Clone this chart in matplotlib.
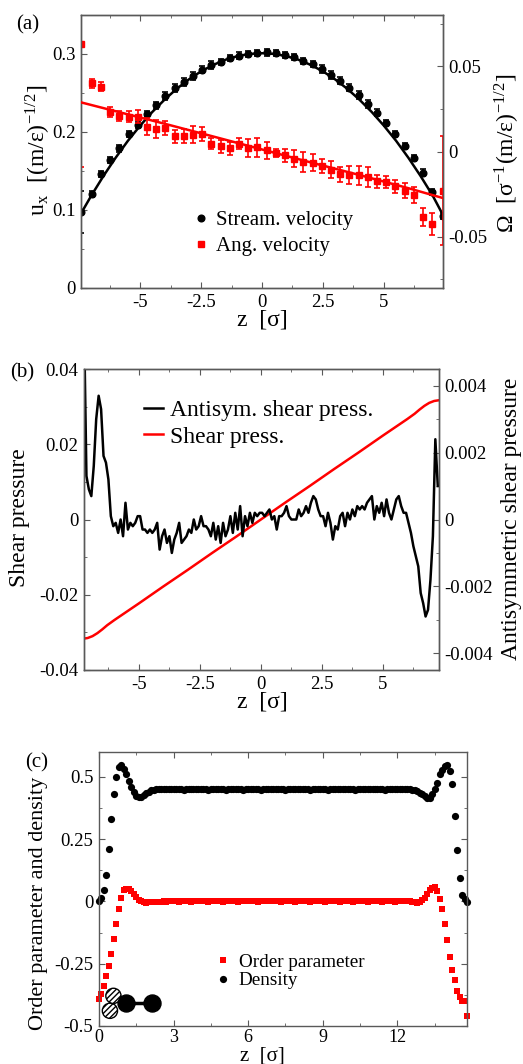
import numpy as np
import matplotlib.pyplot as plt
from matplotlib.ticker import MultipleLocator, FuncFormatter

plt.rcParams['font.family'] = ['Liberation Serif', 'DejaVu Serif']
plt.rcParams['mathtext.fontset'] = 'stix'
plt.rcParams['axes.unicode_minus'] = False

# ---------------- panel (a): velocity profiles ----------------
z_a = np.linspace(-6.98, 6.98, 38)
z_wall = [-7.42, 7.42]

stream_vel = [0.121, 0.146, 0.164, 0.179, 0.197, 0.209, 0.223, 0.234, 0.246, 0.256,
              0.264, 0.272, 0.280, 0.286, 0.290, 0.295, 0.298, 0.300, 0.301, 0.302,
              0.301, 0.299, 0.296, 0.291, 0.287, 0.281, 0.273, 0.266, 0.257, 0.247,
              0.236, 0.225, 0.212, 0.197, 0.182, 0.167, 0.148, 0.123]
stream_err = [0.004, 0.004, 0.004, 0.004, 0.004, 0.004, 0.004, 0.005, 0.005, 0.005,
              0.005, 0.005, 0.005, 0.005, 0.004, 0.004, 0.004, 0.004, 0.004, 0.004,
              0.004, 0.004, 0.004, 0.004, 0.004, 0.005, 0.005, 0.005, 0.005, 0.005,
              0.005, 0.005, 0.004, 0.004, 0.004, 0.004, 0.004, 0.004]
stream_wall = [0.097, 0.092]
stream_wall_err = [0.027, 0.004]

ang_vel = [0.040, 0.038, 0.023, 0.021, 0.0205, 0.0205, 0.0146, 0.0132, 0.0136, 0.0088,
           0.0091, 0.0097, 0.0101, 0.0046, 0.0030, 0.0019, 0.0046, 0.0022, 0.0024, 0.0006,
           -0.0007, -0.0022, -0.0043, -0.0063, -0.0066, -0.0085, -0.0107, -0.0133, -0.0138, -0.0140,
           -0.0149, -0.0175, -0.0180, -0.0205, -0.0230, -0.0254, -0.0384, -0.0425]
ang_err = [0.0025, 0.0025, 0.003, 0.003, 0.003, 0.004, 0.005, 0.005, 0.004, 0.004,
           0.004, 0.005, 0.004, 0.0034, 0.0039, 0.0039, 0.0034, 0.0054, 0.0058, 0.0049,
           0.0024, 0.0039, 0.0049, 0.0058, 0.0049, 0.0039, 0.0049, 0.0044, 0.0054, 0.0054,
           0.0058, 0.0039, 0.0034, 0.0040, 0.0045, 0.0046, 0.0054, 0.0065]
ang_wall = [0.063, -0.023]
ang_wall_err = [0.072, 0.032]

stream_fit_z = [-7.42, -7.0, -6.5, -6.0, -5.5, -5.0, -4.5, -4.0, -3.5, -3.0, -2.5, -2.0, -1.5, -1.0, -0.5, 0.0,
                0.5, 1.0, 1.5, 2.0, 2.5, 3.0, 3.5, 4.0, 4.5, 5.0, 5.5, 6.0, 6.5, 7.0, 7.42]
stream_fit = [0.0955, 0.1183, 0.1436, 0.1670, 0.1886, 0.2080, 0.2256, 0.2413, 0.2553, 0.2674, 0.2777,
              0.2860, 0.2926, 0.2973, 0.3001, 0.3010, 0.3001, 0.2973, 0.2926, 0.2860, 0.2777, 0.2674,
              0.2553, 0.2413, 0.2256, 0.2080, 0.1886, 0.1670, 0.1436, 0.1183, 0.0935]
ang_fit_z = [-7.42, -6.0, -4.0, -2.0, 0.0, 2.0, 4.0, 6.0, 7.42]
ang_fit = [0.0288, 0.0236, 0.0163, 0.0088, 0.0012, -0.0064, -0.0138, -0.0215, -0.0273]

# ---------------- panel (b): shear pressures ----------------
z_b = np.round(np.arange(-7.25, 7.26, 0.1), 2)
# antisymmetric shear pressure, in units of 1e-4
antisym = [60, 13, 9, 7, 16, 30, 37, 33, 19, 17, 12, 1, -2,
           -1, -4, 0, -5, 5, -3, -1, -2, -1, 1,
           1, -3, -3, -4, -3, -4, -3, -1, -9, -5,
           -3, -7, -5, -10, -6, -4, -1, -7, -6, -5,
           -3, -4, 0, -3, -2, 1, -2, -2, -3, -5,
           -1, -6, -2, -7, -1, -5, -3, 1, -4, 2,
           -3, 4, -5, 1, -2, 2, -1, 2, 1, 2,
           2, 1, 2, 3, 0, 1, -3, 1, 1, 2,
           4, 1, 0, 0, 0, 3, 1, 2, 4, 2,
           5, 7, 6, 3, 1, 1, -2, 2, -1, -6,
           -2, -3, 1, 2, -2, 2, 0, 3, 1, 4,
           3, 4, 3, 5, 6, 7, 0, 4, 2, 5,
           1, 6, 2, 0, 3, 6, 7, 4, 2, 2,
           -1, -4, -8, -11, -14, -22, -25, -29, -27, -18, -5, 24, 10]
shear_z = [-7.3, -7.1, -6.9, -6.7, -6.5, -6.3, -6.0, -5.0, -4.0, -3.0, -2.0, -1.0, 0.0,
           1.0, 2.0, 3.0, 4.0, 5.0, 6.0, 6.3, 6.5, 6.7, 6.9, 7.1, 7.3]
shear = [-0.0317, -0.0315, -0.0310, -0.0302, -0.0292, -0.0281, -0.0267, -0.0223, -0.0178,
         -0.0134, -0.0089, -0.0045, 0.0, 0.0045, 0.0089, 0.0134, 0.0178, 0.0223, 0.0267,
         0.0281, 0.0292, 0.0302, 0.0310, 0.0315, 0.0317]

# ---------------- panel (c): order parameter and density ----------------
z_c = np.round(np.arange(0, 14.81, 0.1), 2)
density = [0.002, 0.012, 0.045, 0.105, 0.21, 0.33, 0.43, 0.50, 0.54, 0.548,
           0.53, 0.51, 0.485, 0.458, 0.44, 0.425, 0.418, 0.42, 0.428, 0.435,
           0.441, 0.446, 0.449, 0.450, 0.451, 0.451, 0.450, 0.450, 0.451, 0.450,
           0.450, 0.451, 0.450, 0.450, 0.449, 0.450, 0.450, 0.451, 0.450, 0.450,
           0.450, 0.450, 0.451, 0.450, 0.449, 0.450, 0.450, 0.450, 0.451, 0.450,
           0.450, 0.449, 0.450, 0.450, 0.451, 0.450, 0.450, 0.450, 0.449, 0.450,
           0.451, 0.450, 0.450, 0.450, 0.450, 0.449, 0.450, 0.451, 0.450, 0.450,
           0.450, 0.450, 0.451, 0.450, 0.450, 0.449, 0.450, 0.450, 0.451, 0.450,
           0.450, 0.450, 0.450, 0.451, 0.450, 0.449, 0.450, 0.450, 0.450, 0.451,
           0.450, 0.450, 0.449, 0.450, 0.450, 0.451, 0.450, 0.450, 0.450, 0.450,
           0.451, 0.450, 0.450, 0.449, 0.450, 0.450, 0.451, 0.450, 0.450, 0.450,
           0.450, 0.450, 0.451, 0.450, 0.450, 0.449, 0.450, 0.450, 0.451, 0.450,
           0.450, 0.450, 0.451, 0.450, 0.450, 0.450, 0.449, 0.446, 0.442, 0.437,
           0.430, 0.422, 0.415, 0.416, 0.430, 0.451, 0.475, 0.510, 0.527, 0.543,
           0.546, 0.525, 0.470, 0.345, 0.205, 0.095, 0.025, 0.009, -0.002]
order = [-0.39, -0.372, -0.34, -0.30, -0.26, -0.21, -0.15, -0.09, -0.03, 0.012,
         0.045, 0.052, 0.050, 0.040, 0.028, 0.016, 0.006, 0.0, -0.004, -0.005,
         -0.004, -0.003, -0.002, -0.002, -0.001, -0.001, 0.0, -0.001, 0.0, 0.0,
         0.001, 0.0, -0.001, 0.0, 0.001, 0.0, 0.0, -0.001, 0.0, 0.001,
         0.0, 0.0, 0.001, 0.0, -0.001, 0.0, 0.0, 0.001, 0.0, 0.0,
         -0.001, 0.0, 0.0, 0.001, 0.0, 0.0, -0.001, 0.0, 0.001, 0.0,
         0.0, 0.001, 0.0, 0.0, -0.001, 0.0, 0.0, 0.001, 0.0, 0.0,
         0.001, 0.0, 0.0, -0.001, 0.0, 0.0, 0.001, 0.0, 0.0, -0.001,
         0.0, 0.0, 0.001, 0.0, 0.0, -0.001, 0.0, 0.001, 0.0, 0.0,
         0.0, -0.001, 0.0, 0.001, 0.0, 0.0, 0.0, -0.001, 0.0, 0.001,
         0.0, 0.0, -0.001, 0.0, 0.0, 0.001, 0.0, 0.0, -0.001, 0.0,
         0.001, 0.0, 0.0, 0.0, -0.001, 0.0, 0.001, 0.0, 0.0, -0.001,
         0.0, 0.0, 0.001, 0.0, 0.0, 0.0, -0.002, -0.004, -0.005, -0.003,
         0.004, 0.015, 0.030, 0.045, 0.055, 0.057, 0.040, 0.008, -0.030, -0.090,
         -0.155, -0.224, -0.275, -0.315, -0.360, -0.385, -0.400, -0.400, -0.460]

# dimer sketch in panel (c)
hatched_x = [0.44, 0.58]
hatched_y = [-0.439, -0.379]
dimer_x = [1.09, 2.12]
dimer_y = [-0.407, -0.407]

W, H = 523, 1064
SPINE = '0.35'


def box(l, t, r, b):
    return [l / W, 1 - b / H, (r - l) / W, (b - t) / H]


def fxy(x, y):
    return x / W, 1 - y / H


def gfmt(v, pos):
    return '%g' % v


def frame(ax):
    for s in ax.spines.values():
        s.set_color(SPINE)
        s.set_linewidth(1.0)
    ax.tick_params(which='both', direction='in', color=SPINE, labelsize=13.5, pad=4)
    ax.tick_params(which='major', length=4.5)
    ax.tick_params(which='minor', length=2.5)
    ax.xaxis.set_major_formatter(FuncFormatter(gfmt))
    ax.yaxis.set_major_formatter(FuncFormatter(gfmt))


fig = plt.figure(figsize=(W / 100, H / 100), dpi=100)

# ---- (a)
ax_a = fig.add_axes(box(81, 15, 443, 288))
ax_ar = ax_a.twinx()
for ax in (ax_a, ax_ar):
    frame(ax)
ax_a.set_xlim(-7.42, 7.42)
ax_a.set_ylim(0, 0.35)
ax_ar.set_ylim(-0.08, 0.08)
ax_a.xaxis.set_major_locator(MultipleLocator(2.5))
ax_a.xaxis.set_minor_locator(MultipleLocator(1.25))
ax_a.yaxis.set_major_locator(MultipleLocator(0.1))
ax_a.yaxis.set_minor_locator(MultipleLocator(0.05))
ax_ar.yaxis.set_major_locator(MultipleLocator(0.05))
ax_ar.yaxis.set_minor_locator(MultipleLocator(0.025))
ax_a.tick_params(which='both', top=True, right=False)
ax_ar.tick_params(which='both', right=True, left=False)

ax_a.errorbar(z_a, stream_vel, yerr=stream_err, fmt='o', color='black', ms=4.8,
              elinewidth=1.2, capsize=2.5, capthick=1.2, zorder=2)
ax_a.errorbar(z_wall, stream_wall, yerr=stream_wall_err, fmt='o', color='black', ms=4.8,
              elinewidth=1.2, capsize=2.5, capthick=1.2, zorder=2)
ax_a.plot(stream_fit_z, stream_fit, color='black', lw=1.8, zorder=3)
ax_ar.errorbar(z_a, ang_vel, yerr=ang_err, fmt='s', color='red', ms=4.0,
               elinewidth=1.2, capsize=2.5, capthick=1.2, zorder=2)
ax_ar.errorbar(z_wall, ang_wall, yerr=ang_wall_err, fmt='s', color='red', ms=4.0,
               elinewidth=1.2, capsize=2.5, capthick=1.2, zorder=2)
ax_ar.plot(ang_fit_z, ang_fit, color='red', lw=1.8, zorder=3)

h1, = ax_a.plot([], [], 'o', color='black', ms=4.8)
h2, = ax_a.plot([], [], 's', color='red', ms=4.0)
ax_ar.legend([h1, h2], ['Stream. velocity', 'Ang. velocity'], loc='upper left',
             bbox_to_anchor=fxy(180, 200), bbox_transform=fig.transFigure, frameon=False,
             fontsize=15, borderpad=0, handlelength=1.0, handletextpad=0.25, labelspacing=0.3)

fig.text(*fxy(28, 25), '(a)', fontsize=15, ha='center', va='center')
fig.text(*fxy(262, 320), r'z  [σ]', fontsize=17, ha='center', va='center')
fig.text(*fxy(38, 150), r'u$_\mathregular{x}$  [(m/ε)$^{\mathregular{-1/2}}$]', fontsize=17,
         rotation=90, ha='center', va='center')
fig.text(*fxy(507, 153), r'Ω  [σ$^{\mathregular{-1}}$(m/ε)$^{\mathregular{-1/2}}$]', fontsize=17,
         rotation=90, ha='center', va='center')

# ---- (b)
ax_b = fig.add_axes(box(84, 369, 439, 670))
ax_br = ax_b.twinx()
for ax in (ax_b, ax_br):
    frame(ax)
ax_b.set_xlim(-7.25, 7.3)
ax_b.set_ylim(-0.04, 0.04)
ax_br.set_ylim(-0.0045, 0.0045)
ax_b.xaxis.set_major_locator(MultipleLocator(2.5))
ax_b.xaxis.set_minor_locator(MultipleLocator(1.25))
ax_b.yaxis.set_major_locator(MultipleLocator(0.02))
ax_b.yaxis.set_minor_locator(MultipleLocator(0.01))
ax_br.yaxis.set_major_locator(MultipleLocator(0.002))
ax_br.yaxis.set_minor_locator(MultipleLocator(0.001))
ax_b.tick_params(which='both', top=True, right=False)
ax_br.tick_params(which='both', right=True, left=False)

l_red, = ax_b.plot(shear_z, shear, color='red', lw=1.8)
l_blk, = ax_br.plot(z_b, np.array(antisym) * 1e-4, color='black', lw=1.8)
ax_br.legend([l_blk, l_red], ['Antisym. shear press.', 'Shear press.'], loc='upper left',
             bbox_to_anchor=fxy(132, 388), bbox_transform=fig.transFigure, frameon=False,
             fontsize=17, borderpad=0, handlelength=0.8, handletextpad=0.3, labelspacing=0.2)

fig.text(*fxy(22, 373), '(b)', fontsize=15, ha='center', va='center')
fig.text(*fxy(262, 702), r'z  [σ]', fontsize=17, ha='center', va='center')
fig.text(*fxy(19, 518), 'Shear pressure', fontsize=17, rotation=90, ha='center', va='center')
fig.text(*fxy(512, 519), 'Antisymmetric shear pressure', fontsize=17, rotation=90,
         ha='center', va='center')

# ---- (c)
ax_c = fig.add_axes(box(99, 752, 467, 1026))
frame(ax_c)
ax_c.set_xlim(0, 14.8)
ax_c.set_ylim(-0.5, 0.6)
ax_c.xaxis.set_major_locator(MultipleLocator(3))
ax_c.xaxis.set_minor_locator(MultipleLocator(1.5))
ax_c.yaxis.set_major_locator(MultipleLocator(0.25))
ax_c.yaxis.set_minor_locator(MultipleLocator(0.125))
ax_c.tick_params(which='both', top=True, right=True)
ax_c.tick_params(axis='x', pad=2, labelsize=13)

ax_c.plot(z_c, order, 's', color='red', ms=4.2, mew=0, label='Order parameter', clip_on=False)
ax_c.plot(z_c, density, 'o', color='black', ms=5.2, mew=0, label='Density', clip_on=False)
ax_c.scatter(hatched_x, hatched_y, s=120, facecolor='white', edgecolor='black',
             hatch='//////', linewidth=1.0, zorder=4)
ax_c.plot(dimer_x, dimer_y, '-', color='black', lw=2.5, zorder=4)
ax_c.scatter(dimer_x, dimer_y, s=150, color='black', zorder=5)
ax_c.legend(loc='upper left', bbox_to_anchor=fxy(206, 944), bbox_transform=fig.transFigure,
            frameon=False, fontsize=13.8, borderpad=0, handlelength=0.8, handletextpad=0.4,
            labelspacing=0.05)

fig.text(*fxy(37, 763), '(c)', fontsize=15, ha='center', va='center')
fig.text(*fxy(262, 1056), r'z  [σ]', fontsize=15, ha='center', va='center')
fig.text(*fxy(38, 903), 'Order parameter and density', fontsize=16, rotation=90,
         ha='center', va='center')

fig.savefig('out.png', dpi=100, facecolor='white')
